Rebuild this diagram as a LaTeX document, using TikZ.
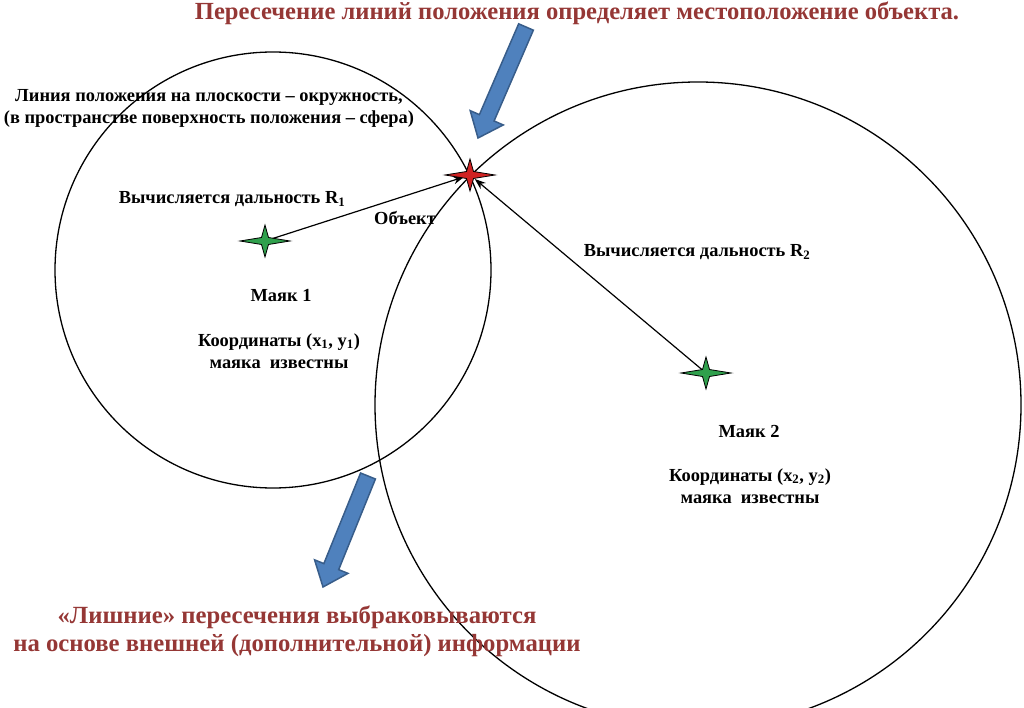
\documentclass[tikz,border=0pt]{standalone}
\usepackage{fontspec}
\setmainfont{Liberation Serif}
\usetikzlibrary{arrows.meta,calc}
\definecolor{tred}{HTML}{953735}
\definecolor{bfill}{HTML}{4F81BD}
\definecolor{bdraw}{HTML}{385D8A}
\definecolor{sgreen}{HTML}{2FA04C}
\definecolor{sred}{HTML}{D02222}
\tikzset{
  txt/.style={font=\bfseries\fontsize{18.4}{22}\selectfont, align=center, inner sep=0pt},
  ttl/.style={font=\bfseries\fontsize{24.6}{28}\selectfont, text=tred, align=center, inner sep=0pt},
  ring/.style={draw=black, line width=1.3pt},
  conn/.style={draw=black, line width=1.2pt, -{Stealth[length=11pt,width=8pt]}},
  spot/.style={circle, minimum size=12pt, inner sep=0pt, draw=none},
  pics/fourstar/.style={code={
    \filldraw[draw=black, line width=0.8pt, fill=#1, line join=miter]
      (25,0) -- (3.5,-3.5) -- (0,-16) -- (-3.5,-3.5) -- (-25,0) -- (-3.5,3.5) -- (0,16) -- (3.5,3.5) -- cycle;}},
  blockarrow/.style={fill=bfill, draw=bdraw, line width=1.5pt, line join=miter}
}
\newcommand\blockarr[2]{%
  \coordinate (bah) at ($(#2)!22pt!(#1)$);
  \filldraw[blockarrow]
    ($(#1)!8pt!90:(#2)$) -- ($(bah)!8pt!-90:(#1)$) -- ($(bah)!18pt!-90:(#1)$) -- (#2)
    -- ($(bah)!18pt!90:(#1)$) -- ($(bah)!8pt!90:(#1)$) -- ($(#1)!8pt!-90:(#2)$) -- cycle;}
\begin{document}
\begin{tikzpicture}[x=1pt,y=-1pt]
\useasboundingbox (0,0) rectangle (1024,708);
\clip (0,0) rectangle (1024,708);
% circles
\draw[ring] (273,270) circle[radius=218];
\draw[ring] (698,405) circle[radius=323];
% star positions
\node[spot] (b1) at (265,241) {};
\node[spot] (b2) at (706,373) {};
\node[spot] (obj) at (470,175) {};
% connectors
\draw[conn] (b1.center) -- (obj);
\draw[conn] (b2.center) -- (obj);
% stars
\pic at (b1) {fourstar=sgreen};
\pic at (b2) {fourstar=sgreen};
\pic at (obj) {fourstar=sred};
% block arrows
\coordinate (a1s) at (526,27);
\coordinate (a1t) at (478,138);
\coordinate (a2s) at (368,476);
\coordinate (a2t) at (323,587);
\blockarr{a1s}{a1t}
\blockarr{a2s}{a2t}
% texts
\node[ttl] (title) at (577,13) {Пересечение линий положения определяет местоположение объекта.};
\node[txt] (line) at (209,108) {Линия положения на плоскости – окружность,\\(в пространстве поверхность положения – сфера)};
\node[txt] (r1) at (232,199) {Вычисляется дальность R\textsubscript{1}};
\node[txt] (objl) at (405,218) {Объект};
\node[txt] (m1) at (281,296) {Маяк 1};
\node[txt] (k1) at (279,351) {Координаты (x\textsubscript{1}, y\textsubscript{1})\\маяка\ \ известны};
\node[txt] (r2) at (697,252) {Вычисляется дальность R\textsubscript{2}};
\node[txt] (m2) at (749,431) {Маяк 2};
\node[txt] (k2) at (750,486) {Координаты (x\textsubscript{2}, y\textsubscript{2})\\маяка\ \ известны};
\node[ttl, font=\bfseries\fontsize{24.7}{28}\selectfont] (extra) at (297,631) {«Лишние» пересечения выбраковываются\\на основе внешней (дополнительной) информации};
\end{tikzpicture}
\end{document}
